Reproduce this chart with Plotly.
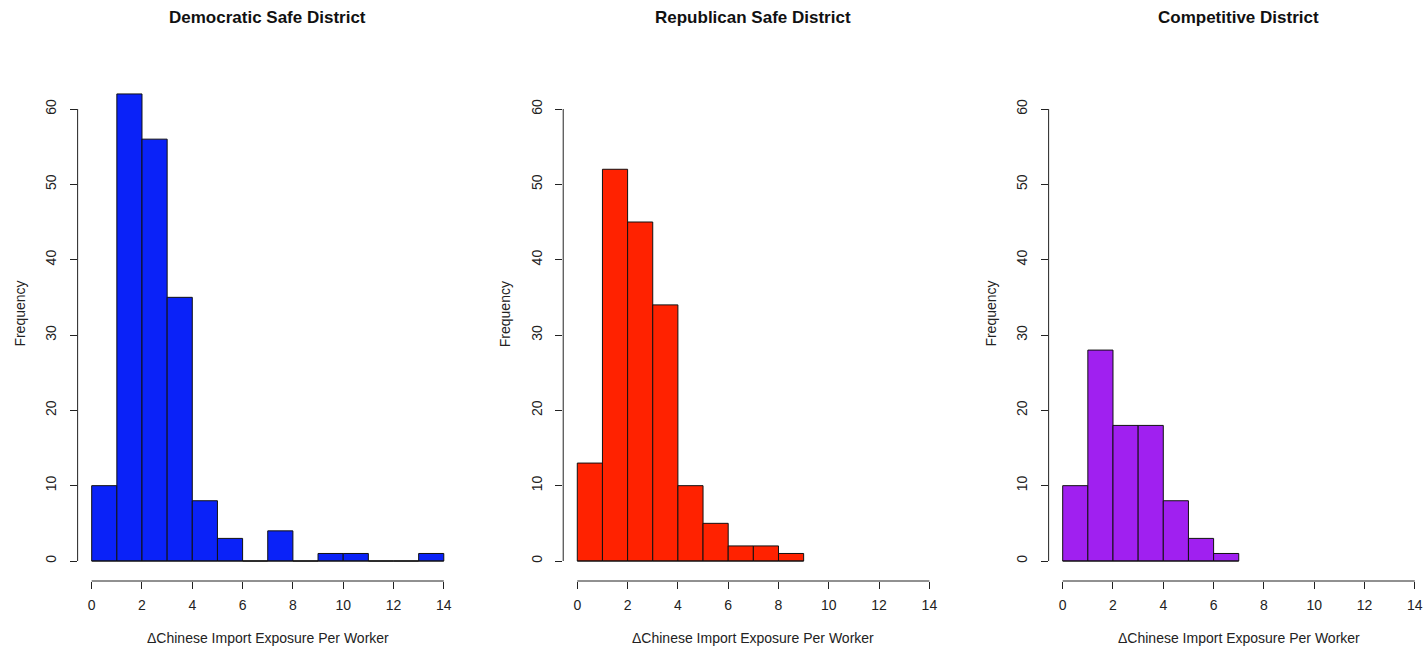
import plotly.graph_objects as go

W, H = 1425, 647

titles = ["Democratic Safe District", "Republican Safe District", "Competitive District"]
dem_counts = [10, 62, 56, 35, 8, 3, 0, 4, 0, 1, 1, 0, 0, 1]
rep_counts = [13, 52, 45, 34, 10, 5, 2, 2, 1]
comp_counts = [10, 28, 18, 18, 8, 3, 1]
colors = ["#0A22F8", "#FF2200", "#A020F0"]
x_ticks = [0, 2, 4, 6, 8, 10, 12, 14]
y_ticks = [0, 10, 20, 30, 40, 50, 60]
xlabel = "\u0394Chinese Import Exposure Per Worker"
ylabel = "Frequency"

series = [dem_counts, rep_counts, comp_counts]

# pixel geometry (layout only)
x_zero_px = [91.7, 577.3, 1062.7]
ppu_x = 25.15
y_zero_px = 561.0
ppu_y = 7.533
y_bottom_px = 581.0
y_top_px = 70.0

FONT = "Liberation Sans, Arial, Helvetica, sans-serif"
TXT = "#222222"

fig = go.Figure()
layout = dict(
    width=W, height=H, margin=dict(l=0, r=0, t=0, b=0),
    paper_bgcolor="white", plot_bgcolor="white", showlegend=False,
    font=dict(family=FONT, size=14, color=TXT),
)
shapes = []
annotations = []

ydom = [(H - y_bottom_px) / H, (H - y_top_px) / H]
yr = [(y_zero_px - y_bottom_px) / ppu_y, (y_zero_px - y_top_px) / ppu_y]

for i, (counts, col, title) in enumerate(zip(series, colors, titles)):
    n = i + 1
    xa = "x" if n == 1 else f"x{n}"
    ya = "y" if n == 1 else f"y{n}"
    left_px = x_zero_px[i] - 0.56 * ppu_x
    right_px = min(x_zero_px[i] + 14.56 * ppu_x, W)
    xr = [(left_px - x_zero_px[i]) / ppu_x, (right_px - x_zero_px[i]) / ppu_x]

    edges = list(range(len(counts) + 1))
    centers = [e + 0.5 for e in edges[:-1]]
    # baseline across histogram range (zero-count bins show as a line)
    fig.add_trace(go.Scatter(x=[edges[0], edges[-1]], y=[0, 0], mode="lines",
                             line=dict(color="#111111", width=1),
                             xaxis=xa, yaxis=ya, hoverinfo="skip"))
    fig.add_trace(go.Bar(x=centers, y=counts, width=1,
                         marker=dict(color=col, line=dict(color="#111111", width=1)),
                         xaxis=xa, yaxis=ya))

    xkey = "xaxis" if n == 1 else f"xaxis{n}"
    ykey = "yaxis" if n == 1 else f"yaxis{n}"
    layout[xkey] = dict(domain=[left_px / W, right_px / W], range=xr, anchor=ya,
                        showgrid=False, zeroline=False, showline=False,
                        tickmode="array", tickvals=x_ticks, ticks="outside",
                        ticklen=7, tickwidth=1, tickcolor="#222222",
                        tickfont=dict(size=14, color=TXT), ticklabelstandoff=4)
    layout[ykey] = dict(domain=ydom, range=yr, anchor=xa,
                        showgrid=False, zeroline=False, showline=False,
                        tickmode="array", tickvals=y_ticks, ticks="outside",
                        ticklen=7, tickwidth=1, tickcolor="#222222",
                        tickangle=-90, tickfont=dict(size=14, color=TXT),
                        ticklabelstandoff=8)
    # R-style axis lines spanning only first..last tick
    shapes.append(dict(type="line", xref=xa, yref=f"{ya} domain",
                       x0=x_ticks[0], x1=x_ticks[-1], y0=0, y1=0,
                       line=dict(color="#222222", width=1)))
    shapes.append(dict(type="line", xref=f"{xa} domain", yref=ya,
                       x0=0, x1=0, y0=y_ticks[0], y1=y_ticks[-1],
                       line=dict(color="#222222", width=1)))
    annotations.append(dict(text=f"<b>{title}</b>", xref="paper", yref="paper",
                            x=(x_zero_px[i] + 7 * ppu_x) / W, y=(H - 17) / H,
                            showarrow=False, xanchor="center", yanchor="middle",
                            font=dict(size=17, color="#111111")))
    annotations.append(dict(text=xlabel, xref="paper", yref="paper",
                            x=(x_zero_px[i] + 7 * ppu_x) / W, y=(H - 638) / H,
                            showarrow=False, xanchor="center", yanchor="middle",
                            font=dict(size=14, color=TXT)))
    annotations.append(dict(text=ylabel, xref="paper", yref="paper",
                            x=(x_zero_px[i] - 0.56 * ppu_x - 58) / W, y=(H - 314) / H,
                            showarrow=False, xanchor="center", yanchor="middle",
                            textangle=-90, font=dict(size=14, color=TXT)))

layout["shapes"] = shapes
layout["annotations"] = annotations
fig.update_layout(**layout)
fig.write_html("out.html")
